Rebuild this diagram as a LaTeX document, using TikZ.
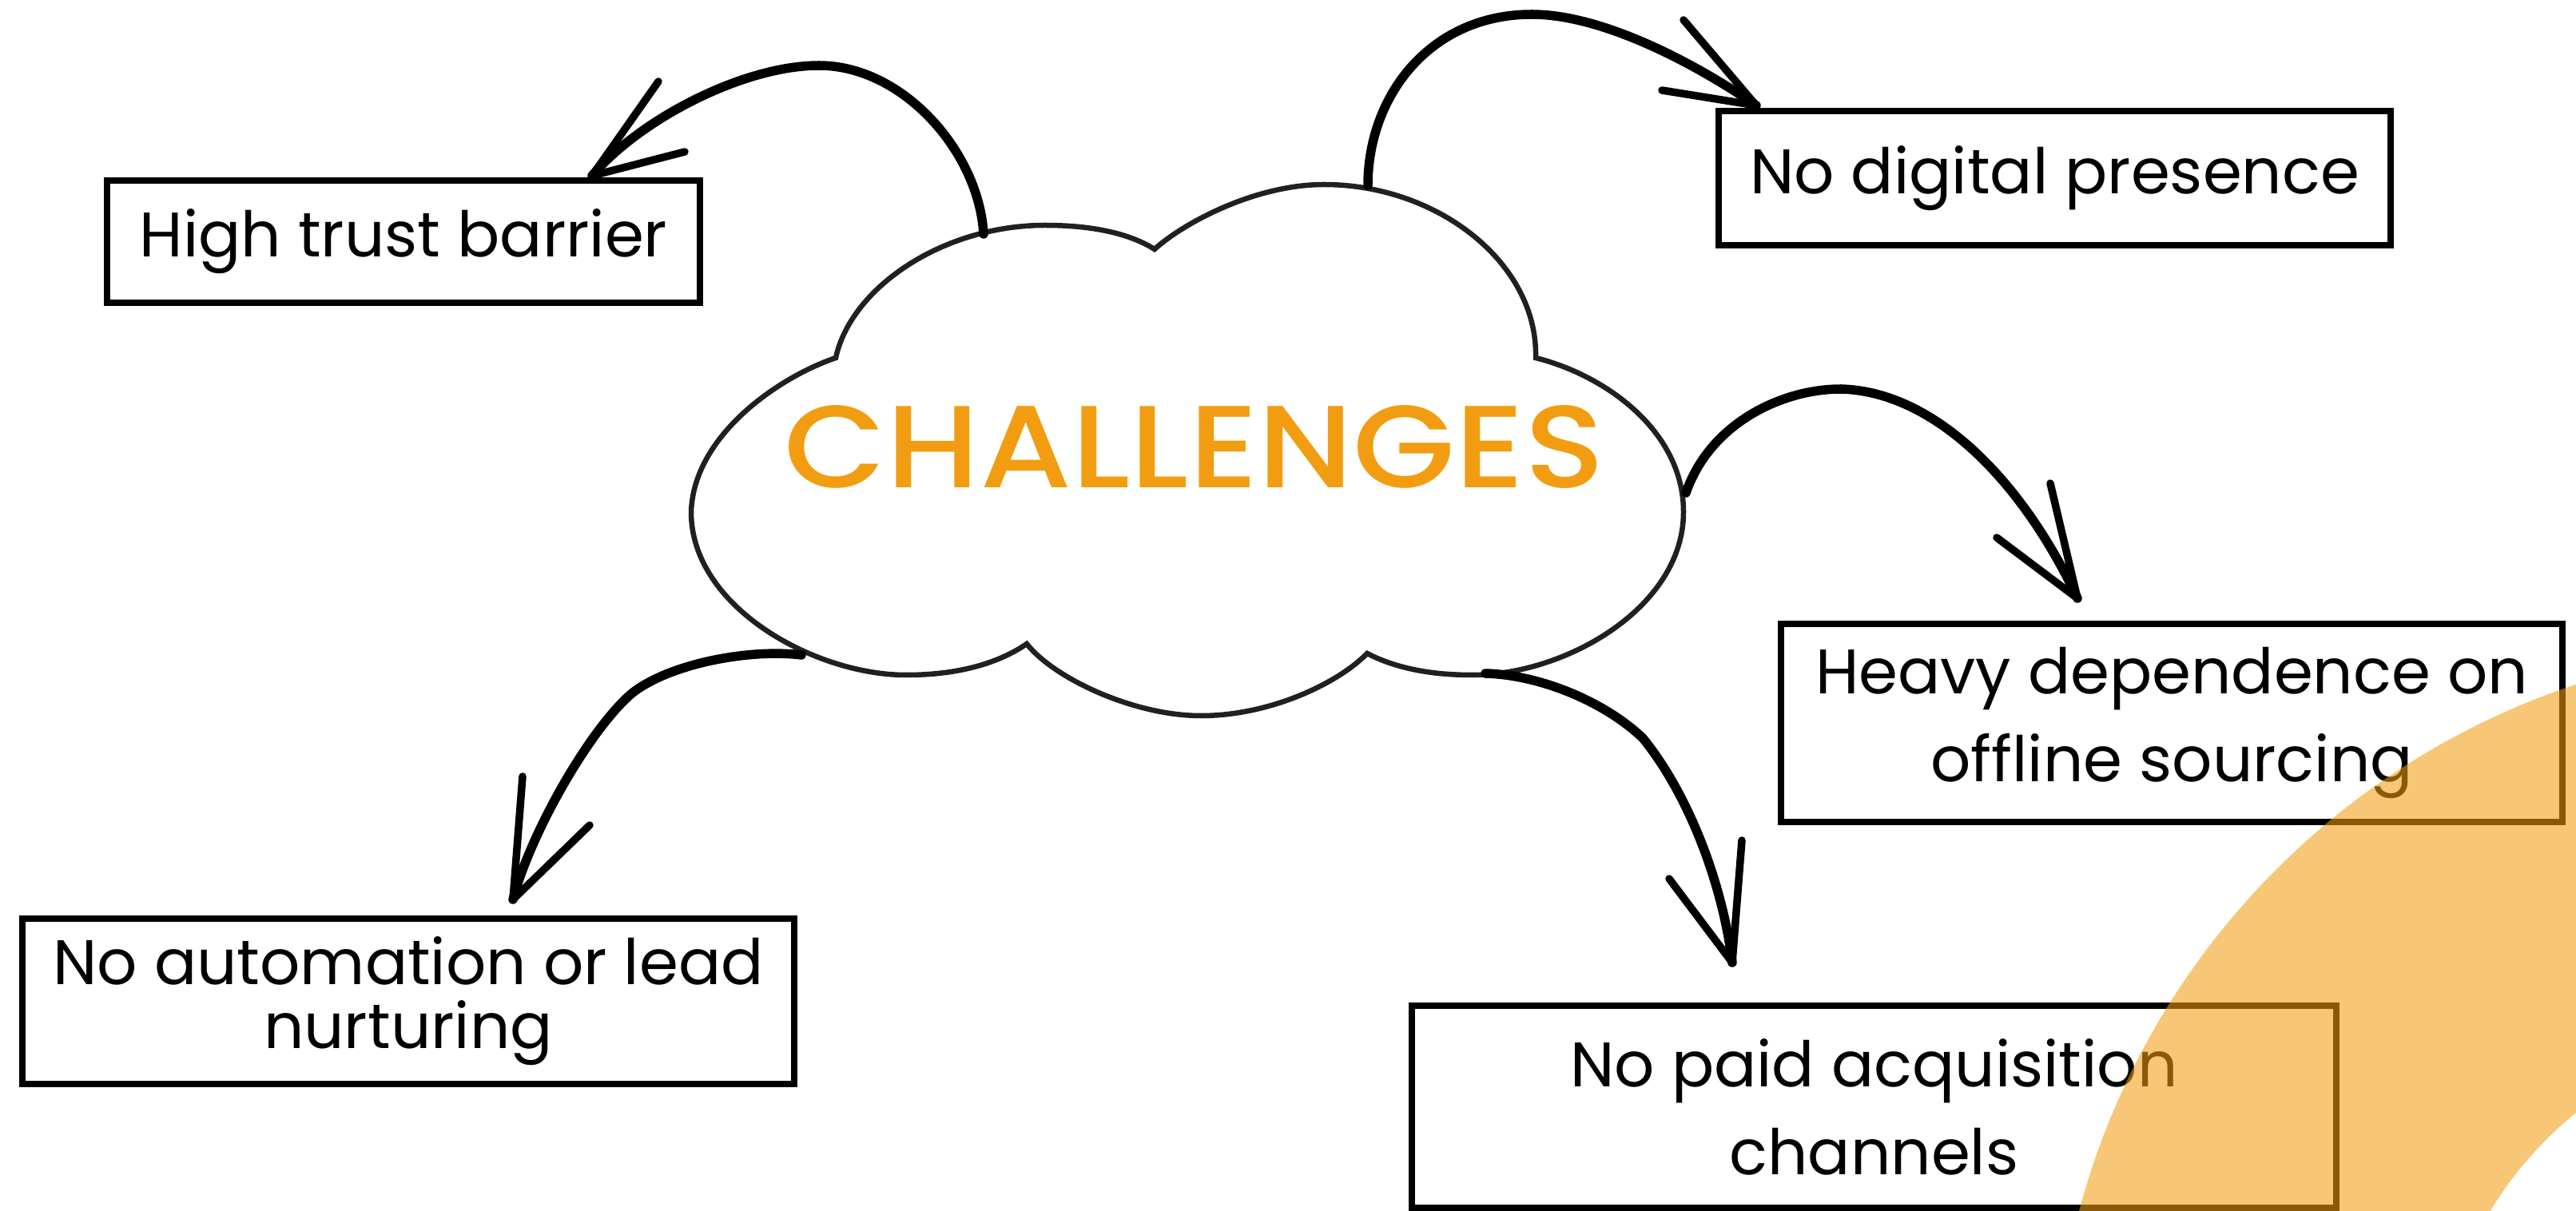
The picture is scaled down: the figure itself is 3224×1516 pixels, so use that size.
\documentclass[tikz,border=0pt]{standalone}
\usepackage{fontspec}
\setmainfont{Poppins}
\newfontfamily\headfont{Poppins Medium}[FakeStretch=1.13]

\definecolor{accent}{HTML}{F29D11}
\definecolor{cloudline}{HTML}{231F20}

\tikzset{
    card/.style={draw, line width=0.08cm, align=center, inner sep=0pt, font=\fontsize{22.4}{31.3}\selectfont},
    hand/.style={line width=0.115cm, line cap=round, line join=round},
    barb/.style={line width=0.095cm, line cap=round, line join=round},
}

\begin{document}
\begin{tikzpicture}[x=0.01cm, y=-0.01cm]
        \path[fill=white, use as bounding box] (0,0) rectangle (3224,1516);

        % the cloud
        \begin{scope}
            \coordinate (cloud j1) at (1046,448);
            \coordinate (cloud j2) at (1445,312);
            \coordinate (cloud j3) at (1922,448);
            \coordinate (cloud j4) at (1711,818);
            \coordinate (cloud j5) at (1285,806);
            \draw[cloudline, line width=0.065cm, fill=white] (cloud j1)
                .. controls (975,472) and (868,545) .. (865,641)
                .. controls (865,760) and (1020,845) .. (1134,845)
                .. controls (1200,845) and (1250,830) .. (cloud j5)
                .. controls (1320,850) and (1420,896) .. (1503,896)
                .. controls (1590,896) and (1675,855) .. (cloud j4)
                .. controls (1750,838) and (1795,845) .. (1843,845)
                .. controls (1960,845) and (2107,760) .. (2107,641)
                .. controls (2107,540) and (2010,470) .. (cloud j3)
                .. controls (1925,330) and (1800,231) .. (1657,231)
                .. controls (1570,231) and (1480,280) .. (cloud j2)
                .. controls (1410,290) and (1360,282) .. (1308,282)
                .. controls (1180,282) and (1065,360) .. (cloud j1) -- cycle;
            \node[text=accent, font=\headfont\fontsize{41.6}{50}\selectfont] (title) at (1495,560) {CHALLENGES};
        \end{scope}

        % the boxes
        \node[card, minimum width=7.42cm, minimum height=1.53cm] (trust) at (505,302.5) {High trust barrier};
        \node[card, minimum width=8.41cm, minimum height=1.68cm] (digital) at (2571.5,223) {No digital presence};
        \node[card, minimum width=9.78cm, minimum height=2.48cm] (offline) at (2718,905) {Heavy dependence on\\offline sourcing};
        \node[card, minimum width=9.66cm, minimum height=2.07cm, font=\fontsize{22.4}{22.8}\selectfont] (automation) at (511,1253.5) {No automation or lead\\nurturing};
        \node[card, minimum width=11.57cm, minimum height=2.53cm] (paid) at (2345.5,1385.5) {No paid acquisition\\channels};

        % the arrows
        \coordinate (trust start) at (1231,293);
        \coordinate (trust tip) at (741,220);
        \draw[hand] (trust start) .. controls (1225,190) and (1130,82) .. (1025,82) .. controls (930,82) and (800,150) .. (trust tip);
        \draw[barb] (trust tip) ++(83,-118) -- (trust tip) -- +(116,-30);

        \coordinate (digital start) at (1712,232);
        \coordinate (digital tip) at (2198,132);
        \draw[hand] (digital start) .. controls (1712,120) and (1790,18) .. (1917,18) .. controls (2010,18) and (2130,85) .. (digital tip);
        \draw[barb] (digital tip) ++(-91,-107) -- (digital tip) -- +(-118,-19);

        \coordinate (offline start) at (2110,617);
        \coordinate (offline tip) at (2600,749);
        \draw[hand] (offline start) .. controls (2140,530) and (2230,487) .. (2304,487) .. controls (2420,490) and (2530,600) .. (offline tip);
        \draw[barb] (offline tip) ++(-34,-144) -- (offline tip) -- +(-101,-76);

        \coordinate (automation start) at (1003,820);
        \coordinate (automation tip) at (642,1126);
        \draw[hand] (automation start) .. controls (940,812) and (840,830) .. (792,867) .. controls (740,910) and (665,1040) .. (automation tip);
        \draw[barb] (automation tip) ++(12,-154) -- (automation tip) -- +(96,-93);

        \coordinate (paid start) at (1859,843);
        \coordinate (paid tip) at (2168,1205);
        \draw[hand] (paid start) .. controls (1930,845) and (2010,880) .. (2056,924) .. controls (2110,990) and (2155,1100) .. (paid tip);
        \draw[barb] (paid tip) ++(12,-153) -- (paid tip) -- +(-79,-105);

        % the ring in the corner
        \begin{scope}
            \clip (0,0) rectangle (3224,1516);
            \fill[accent, opacity=0.57, even odd rule] (3523,1762) circle [radius=953] (3523,1762) circle [radius=475];
        \end{scope}
\end{tikzpicture}
\end{document}
